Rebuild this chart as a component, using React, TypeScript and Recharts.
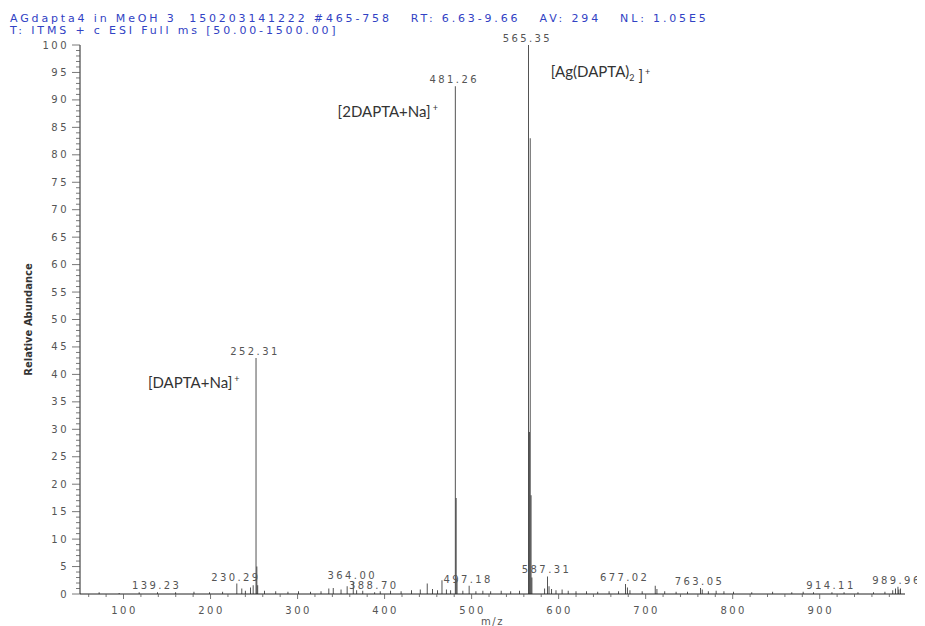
import { BarChart, Bar, XAxis, YAxis, LabelList, ReferenceDot } from "recharts";

// isotope clusters of the three main ions, [m/z, relative abundance]
const clusterPeaks: [number, number][] = [
  [253.3, 5], [254.3, 1.6],
  [482.26, 17.5], [483.3, 2.6],
  [566.35, 29.5], [567.35, 83], [568.35, 18], [569.35, 3],
];

// peaks that carry an m/z label, [m/z, relative abundance]
const labelledPeaks: [number, number][] = [
  [139.23, 0.3], [230.29, 1.9], [252.31, 43], [364.0, 2.2], [388.7, 0.3],
  [481.26, 92.5], [497.18, 1.5], [565.35, 100], [587.31, 3.2], [677.02, 1.8],
  [763.05, 1.1], [914.11, 0.3], [989.96, 1.3],
];

// small baseline peaks
const noisePeaks: [number, number][] = [
  [72, 0.3], [95, 0.2], [118, 0.3], [160, 0.3], [181, 0.4], [199, 0.3], [214, 0.4],
  [236, 1.0], [240, 0.6], [246, 1.2], [249, 1.6], [262, 0.6], [275, 0.5], [289, 0.4],
  [301, 0.5], [315, 0.4], [327, 0.5], [336, 1.0], [341, 1.1], [350, 0.8], [357, 1.4],
  [368, 0.7], [375, 0.6], [395, 0.5], [407, 0.6], [419, 0.5], [431, 0.7], [441, 0.8],
  [449, 1.9], [455, 0.9], [461, 0.7], [466, 2.5], [471, 0.8], [476, 0.7], [490, 0.6],
  [505, 0.5], [513, 0.6], [522, 0.5], [534, 0.6], [545, 0.5], [555, 0.6], [584, 1.0],
  [589, 1.4], [592, 0.9], [597, 0.7], [604, 0.8], [611, 0.6], [620, 0.5], [632, 0.5],
  [645, 0.4], [658, 0.5], [669, 0.5], [679, 1.2], [682, 0.7], [696, 0.5], [711, 1.5],
  [713, 0.9], [722, 0.5], [735, 0.4], [748, 0.4], [765, 0.8], [772, 0.5], [781, 0.6],
  [790, 0.5], [801, 0.4], [822, 0.3], [846, 0.4], [868, 0.3], [881, 0.4], [893, 0.3],
  [928, 0.3], [944, 0.3], [962, 0.3], [975, 0.4], [984, 0.7], [987, 1.0], [991, 0.8],
  [993, 1.0],
];

// annotation anchors: left edge / baseline in data units
const annotations = [
  { mz: 128, y: 37.5, parts: [["[DAPTA+Na]", ""], ["+", "sup"]] },
  { mz: 346, y: 86.8, parts: [["[2DAPTA+Na]", ""], ["+", "sup"]] },
  { mz: 591, y: 94.2, parts: [["[Ag(DAPTA)", ""], ["2", "sub"], [" ]", ""], ["+", "sup"]] },
];

const headerLines = [
  "AGdapta4 in MeOH 3  150203141222 #465-758   RT: 6.63-9.66   AV: 294   NL: 1.05E5",
  "T: ITMS + c ESI Full ms [50.00-1500.00]",
];

const xMajorTicks = [100, 200, 300, 400, 500, 600, 700, 800, 900];
const xTicks = Array.from({ length: 47 }, (_, i) => 60 + i * 20);
const yTicks = Array.from({ length: 101 }, (_, i) => i);

const labelSet = new Set(labelledPeaks.map((p) => p[0]));
const data = [...clusterPeaks, ...labelledPeaks, ...noisePeaks]
  .map(([mz, ab]) => ({ mz, ab, label: labelSet.has(mz) ? mz.toFixed(2) : "" }))
  .sort((a, b) => a.mz - b.mz);

const TICK_FONT = "'DejaVu Sans', sans-serif";
const INK = "#222";

function YTick({ x, y, payload }: any) {
  const v = payload.value;
  const major = v % 5 === 0;
  return (
    <g>
      <line x1={x + (major ? 2 : 6)} x2={x + 10} y1={y} y2={y} stroke="#555" strokeWidth={0.8} />
      {major && (
        <text x={x - 1} y={y + 3.5} textAnchor="end" fontFamily={TICK_FONT} fontSize={10}
          letterSpacing={2.5} fill="#555">{v}</text>
      )}
    </g>
  );
}

function XTick({ x, y, payload }: any) {
  const v = payload.value;
  const major = xMajorTicks.includes(v);
  return (
    <g>
      <line x1={x} x2={x} y1={y - 9} y2={y - 9 + (major ? 5 : 3)} stroke="#555" strokeWidth={0.8} />
      {major && (
        <text x={x + 1} y={y + 11} textAnchor="middle" fontFamily={TICK_FONT} fontSize={10}
          letterSpacing={2.5} fill="#555">{v}</text>
      )}
    </g>
  );
}

function PeakLabel({ x, y, width, value }: any) {
  if (!value) return null;
  return (
    <text x={x + width / 2 - 1} y={y - 3} textAnchor="middle" fontFamily={TICK_FONT} fontSize={10}
      letterSpacing={2.4} fill="#555">{value}</text>
  );
}

function Annotation({ viewBox, parts }: any) {
  const cx = viewBox.x + viewBox.width / 2;
  const cy = viewBox.y + viewBox.height / 2;
  return (
    <text x={cx} y={cy} fontFamily="Lato, 'Open Sans', sans-serif" fontSize={15} fill="#333">
      {parts.map(([t, kind]: string[], i: number) => (
        <tspan key={i} fontSize={kind ? 9 : 15} dy={kind === "sup" ? -6 : kind === "sub" ? 4 : 0}
          dx={kind === "sup" ? 2 : 0}>{t}</tspan>
      ))}
    </text>
  );
}

export default function App() {
  return (
    <div style={{ position: "relative", width: 917, height: 620 }}>
      {headerLines.map((line, i) => (
        <div key={i} style={{
          position: "absolute", left: 2, top: 5 + i * 12, fontFamily: TICK_FONT, fontSize: 11,
          lineHeight: "11px", letterSpacing: 2.85, color: "#3142c4", whiteSpace: "pre", zIndex: 1,
        }}>{line}</div>
      ))}
      <BarChart width={917} height={620} data={data} barSize={1.6}
        margin={{ top: 37, right: 20, bottom: 0, left: 0 }}>
        <XAxis dataKey="mz" type="number" domain={[50, 998]} ticks={xTicks} interval={0}
          tick={<XTick />} tickLine={false} tickSize={5} tickMargin={4} height={34}
          axisLine={{ stroke: INK, strokeWidth: 1 }}
          label={({ viewBox }: any) => (
            <text x={viewBox.x + viewBox.width / 2} y={viewBox.y + 31} textAnchor="middle"
              fontFamily={TICK_FONT} fontSize={10} letterSpacing={1.5} fill="#555">m/z</text>
          )} />
        <YAxis type="number" domain={[0, 100]} ticks={yTicks} interval={0} width={72}
          tick={<YTick />} tickLine={false} tickSize={8} tickMargin={2}
          axisLine={{ stroke: INK, strokeWidth: 1 }}
          label={({ viewBox }: any) => (
            <text x={24} y={viewBox.y + viewBox.height / 2} transform={`rotate(-90 24 ${viewBox.y + viewBox.height / 2})`}
              textAnchor="middle" fontFamily={TICK_FONT} fontSize={10} fontWeight="bold" fill="#333">
              Relative Abundance
            </text>
          )} />
        <Bar dataKey="ab" fill={INK} isAnimationActive={false}>
          <LabelList dataKey="label" content={<PeakLabel />} />
        </Bar>
        {annotations.map((a, i) => (
          <ReferenceDot key={i} x={a.mz} y={a.y} r={1} fill="none" stroke="none"
            label={<Annotation parts={a.parts} />} />
        ))}
      </BarChart>
    </div>
  );
}
